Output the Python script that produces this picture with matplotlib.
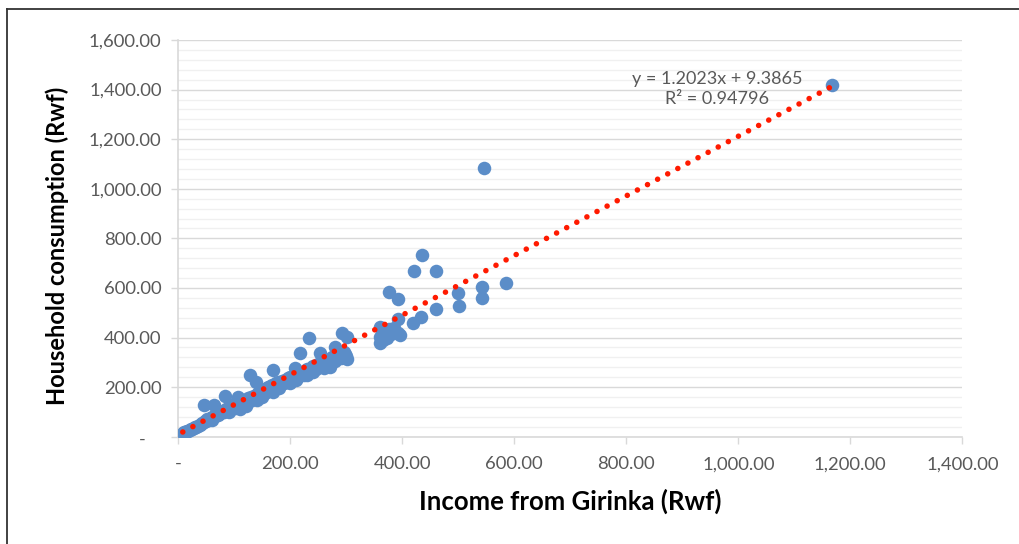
import matplotlib.pyplot as plt
from matplotlib.lines import Line2D
from matplotlib.ticker import FuncFormatter, MultipleLocator
import numpy as np

plt.rcParams['font.family'] = ['Lato', 'DejaVu Sans']

# income from Girinka (x) and household consumption (y), Rwf
income = [8, 10, 12, 15, 18, 20, 22, 25, 28, 30, 32, 35, 38, 40, 42, 45, 46, 48, 50, 52,
          55, 58, 60, 62, 64, 65, 68, 70, 72, 75, 78, 80, 82, 84, 85, 88, 90, 92, 95, 98,
          100, 102, 105, 106, 108, 110, 112, 115, 118, 120, 122, 125, 128, 130, 132, 135, 138, 139, 140, 142,
          145, 148, 150, 152, 155, 158, 160, 162, 165, 168, 169, 169, 172, 175, 178, 180, 185, 188, 190, 195,
          198, 200, 205, 209, 210, 212, 215, 217, 220, 225, 228, 230, 234, 235, 238, 240, 245, 248, 250, 253,
          255, 258, 260, 265, 268, 270, 272, 275, 280, 280, 285, 288, 290, 292, 295, 298, 302, 302, 300, 290,
          60, 90, 110, 120, 140, 150, 180, 200, 210, 230, 240, 260, 270,
          360, 361, 361, 363, 365, 368, 370, 372, 377, 378, 377, 380, 385, 392, 392, 393, 395,
          419, 420, 433, 435, 460, 461, 500, 502, 543, 542, 545, 585, 1168]
consumption = [15, 20, 18, 25, 22, 28, 30, 33, 36, 40, 38, 45, 48, 50, 55, 60, 128, 62, 65, 70,
               68, 75, 80, 78, 128, 85, 90, 88, 92, 95, 100, 105, 98, 165, 110, 112, 118, 108, 120, 125,
               130, 115, 128, 160, 135, 140, 122, 138, 145, 150, 135, 155, 249, 160, 148, 165, 170, 222, 158, 175,
               180, 170, 185, 190, 178, 195, 200, 188, 205, 210, 269, 181, 195, 215, 220, 208, 225, 215, 230, 235,
               222, 240, 245, 276, 250, 238, 258, 336, 262, 250, 268, 272, 397, 260, 280, 285, 275, 290, 295, 336,
               300, 285, 305, 310, 298, 282, 315, 320, 363, 305, 325, 330, 318, 417, 340, 335, 401, 312, 325, 322,
               66, 98, 112, 125, 148, 160, 195, 215, 228, 248, 262, 278, 298,
               444, 404, 377, 403, 390, 420, 410, 397, 433, 417, 585, 415, 440, 554, 473, 417, 410,
               457, 668, 484, 731, 515, 668, 578, 527, 602, 560, 1085, 621, 1418]

# Excel linear trendline
slope = 1.2023
intercept = 9.3865
r_squared = 0.94796

tick_grey = '#595959'

fig = plt.figure(figsize=(10.19, 5.44), dpi=100)
ax = fig.add_axes([178.3 / 1019, 1 - 436.7 / 544, 784 / 1019, 396.7 / 544])

ax.scatter(income, consumption, s=95, color='#5B8DC8', linewidths=0, zorder=3)

tx = np.array([min(income), max(income)])
ax.plot(tx, slope * tx + intercept, color='#FF1A00', linewidth=4.0,
        linestyle=(0, (0.01, 2.05)), dash_capstyle='round', zorder=4)

ax.text(962, 1403, f'y = {slope}x + {intercept}\nR² = {r_squared}', ha='center', va='center',
        fontsize=13, color=tick_grey, linespacing=1.35, zorder=5)

ax.set_xlim(0, 1400)
ax.set_ylim(0, 1600)
ax.xaxis.set_major_locator(MultipleLocator(200))
ax.yaxis.set_major_locator(MultipleLocator(200))
ax.yaxis.set_minor_locator(MultipleLocator(40))


def money(v, pos):
    if abs(v) < 1e-9:
        return '-'
    return f'{v:,.2f}'


def money_y(v, pos):
    if abs(v) < 1e-9:
        return ''
    return f'{v:,.2f}'


ax.xaxis.set_major_formatter(FuncFormatter(money))
ax.yaxis.set_major_formatter(FuncFormatter(money_y))
ax.annotate('-', xy=(0, 0), xycoords='data', xytext=(-26, -2), textcoords='offset points',
            ha='center', va='center', fontsize=13, color=tick_grey)

ax.grid(axis='y', which='major', color='#D9D9D9', linewidth=1.0, zorder=0)
ax.grid(axis='y', which='minor', color='#F0F0F0', linewidth=1.0, zorder=0)
ax.set_axisbelow(True)

for side in ('top', 'right'):
    ax.spines[side].set_visible(False)
for side in ('left', 'bottom'):
    ax.spines[side].set_color('#D9D9D9')
    ax.spines[side].set_linewidth(1.2)

ax.tick_params(axis='both', which='major', direction='out', length=5, width=1.0,
               color='#D9D9D9', labelsize=13.3, labelcolor=tick_grey)
ax.tick_params(axis='x', pad=9)
ax.tick_params(axis='y', pad=7)
ax.tick_params(axis='y', which='minor', length=0)

fig.text(570 / 1019, 1 - 501 / 544, 'Income from Girinka (Rwf)', ha='center', va='center',
         fontsize=18.5, fontweight='bold', color='black')
fig.text(57 / 1019, 1 - 246 / 544, 'Household consumption (Rwf)', ha='center', va='center',
         rotation=90, fontsize=17, fontweight='bold', color='black')

# chart frame, only its top and left edges fall inside the image
fig.add_artist(Line2D([7 / 1019, 7 / 1019], [0, 1 - 9 / 544], transform=fig.transFigure,
                      color='#333333', linewidth=1.3))
fig.add_artist(Line2D([7 / 1019, 1], [1 - 9 / 544, 1 - 9 / 544], transform=fig.transFigure,
                      color='#333333', linewidth=1.3))

fig.savefig('out.png', dpi=100)
